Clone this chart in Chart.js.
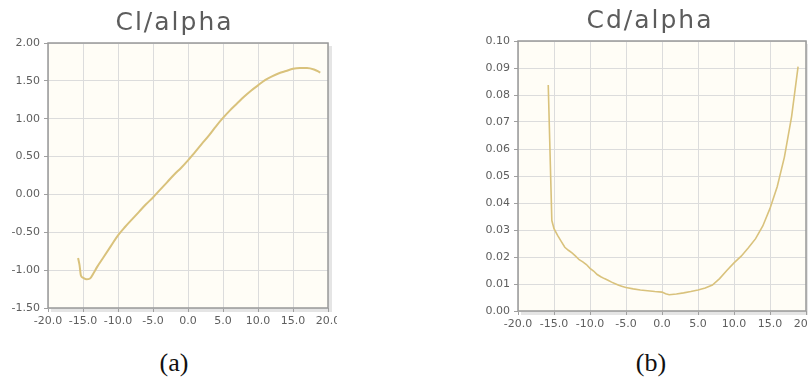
<!DOCTYPE html>
<html>
<head>
<meta charset="utf-8">
<script src="https://cdn.jsdelivr.net/npm/chart.js@4/dist/chart.umd.min.js"></script>
<style>
  html, body { margin: 0; padding: 0; background: #ffffff; overflow: hidden; width: 808px; height: 383px; }
  .panel { position: absolute; top: 0; height: 383px; overflow: hidden; }
  .panel canvas { position: absolute; left: 0; top: 0; }
  .caption { position: absolute; top: 348px; width: 80px; text-align: center;
             font-family: "Liberation Serif", "DejaVu Serif", serif; font-size: 26px; color: #111; }
</style>
</head>
<body>
<div class="panel" style="left:0; width:337px;"><canvas id="clChart" width="347" height="338"></canvas></div>
<div class="panel" style="left:470px; width:338px;"><canvas id="cdChart" width="358" height="341"></canvas></div>
<div class="caption" style="left:134px;">(a)</div>
<div class="caption" style="left:611px;">(b)</div>
<script>
// Lift coefficient polar: angle of attack (deg) vs Cl
const clAlpha = [-15.7, -15.5, -15.3, -15.0, -14.5, -14.0, -13.5, -13.0, -12.0, -11.0, -10.0, -9.0, -8.0, -7.0, -6.0, -5.0, -4.0, -3.0, -2.0, -1.0, 0.0, 1.0, 2.0, 3.0, 4.0, 5.0, 6.0, 7.0, 8.0, 9.0, 10.0, 11.0, 12.0, 13.0, 14.0, 15.0, 16.0, 17.0, 18.0, 18.9];
const clValues = [-0.84, -0.93, -1.07, -1.10, -1.12, -1.11, -1.04, -0.96, -0.82, -0.68, -0.54, -0.43, -0.33, -0.23, -0.13, -0.04, 0.06, 0.16, 0.26, 0.35, 0.45, 0.56, 0.67, 0.78, 0.90, 1.01, 1.11, 1.20, 1.29, 1.37, 1.44, 1.51, 1.56, 1.60, 1.63, 1.66, 1.67, 1.67, 1.65, 1.61];

// Drag coefficient polar: angle of attack (deg) vs Cd
const cdAlpha = [-15.8, -15.3, -15.0, -14.5, -14.0, -13.5, -13.0, -12.5, -12.0, -11.5, -11.0, -10.5, -10.0, -9.5, -9.0, -8.5, -8.0, -7.5, -7.0, -6.5, -6.0, -5.5, -5.0, -4.0, -3.0, -2.0, -1.0, 0.0, 0.5, 1.0, 2.0, 3.0, 4.0, 5.0, 6.0, 7.0, 8.0, 9.0, 10.0, 11.0, 12.0, 13.0, 14.0, 15.0, 16.0, 17.0, 18.0, 18.9];
const cdValues = [0.0837, 0.0335, 0.0305, 0.0280, 0.0258, 0.0236, 0.0225, 0.0215, 0.0203, 0.0190, 0.0182, 0.0172, 0.0158, 0.0148, 0.0135, 0.0127, 0.0120, 0.0114, 0.0107, 0.0101, 0.0095, 0.0091, 0.0087, 0.0082, 0.0078, 0.0075, 0.0072, 0.0070, 0.0064, 0.0060, 0.0063, 0.0067, 0.0072, 0.0078, 0.0085, 0.0096, 0.0120, 0.0150, 0.0178, 0.0203, 0.0234, 0.0268, 0.0315, 0.0380, 0.0460, 0.0570, 0.0720, 0.0905];

// Axis ranges and tick steps
const alphaRange = [-20, 20];
const alphaStep = 5;
const clRange = [-1.5, 2.0];
const clStep = 0.5;
const cdRange = [0, 0.1];
const cdStep = 0.01;

const titles = ['Cl/alpha', 'Cd/alpha'];

const lineColor = '#d9c27c';
const textColor = '#5e5e5e';
const gridColor = '#dcdcdc';

// Cream plot background with a soft drop shadow, then a grey frame on top.
// The title gets a little extra tracking and is centred on the whole canvas.
const plotFrame = {
  id: 'plotFrame',
  beforeDraw(chart) {
    const { ctx, chartArea: a } = chart;
    const tb = chart.titleBlock;
    if (tb && !tb._tracked) {
      const drawTitle = tb.draw.bind(tb);
      const shift = (chart.width - (tb.left + tb.right)) / 2 + 1;
      tb.draw = function () {
        ctx.save();
        ctx.translate(shift, 0);
        ctx.letterSpacing = '2px';
        drawTitle();
        ctx.restore();
      };
      tb._tracked = true;
    }
    ctx.save();
    ctx.fillStyle = '#fffdf6';
    ctx.fillRect(a.left, a.top, a.right - a.left, a.bottom - a.top);
    ctx.strokeStyle = 'rgba(0,0,0,0.10)';
    ctx.lineWidth = 3;
    ctx.beginPath();
    ctx.moveTo(a.right + 2.5, a.top + 3);
    ctx.lineTo(a.right + 2.5, a.bottom + 2.5);
    ctx.lineTo(a.left + 3, a.bottom + 2.5);
    ctx.stroke();
    ctx.restore();
  },
  afterDraw(chart) {
    const { ctx, chartArea: a } = chart;
    ctx.save();
    ctx.strokeStyle = '#999999';
    ctx.lineWidth = 1.5;
    ctx.strokeRect(a.left, a.top, a.right - a.left, a.bottom - a.top);
    ctx.restore();
  }
};

function toPoints(xs, ys) {
  return xs.map((x, i) => ({ x: x, y: ys[i] }));
}

function makeChart(id, title, xs, ys, yRange, yStep, yDigits, opts) {
  return new Chart(document.getElementById(id), {
    type: 'scatter',
    data: {
      datasets: [{
        data: toPoints(xs, ys),
        showLine: true,
        borderColor: lineColor,
        borderWidth: opts.lineWidth,
        pointRadius: 0,
        pointHoverRadius: 0,
        tension: 0,
        cubicInterpolationMode: opts.smooth ? 'monotone' : 'default'
      }]
    },
    plugins: [plotFrame],
    options: {
      responsive: false,
      animation: false,
      devicePixelRatio: 1,
      events: [],
      layout: { autoPadding: false, padding: { left: 0, right: opts.rightPad, top: 0, bottom: 0 } },
      plugins: {
        legend: { display: false },
        tooltip: { enabled: false },
        title: {
          display: true,
          text: title,
          color: '#5c5c5c',
          font: { family: 'DejaVu Sans', size: 25, weight: 'normal', lineHeight: 1 },
          padding: { top: opts.titleTop, bottom: opts.titleBottom }
        }
      },
      scales: {
        x: {
          type: 'linear',
          min: alphaRange[0],
          max: alphaRange[1],
          afterFit(scale) { scale.height = 30; },
          ticks: {
            stepSize: alphaStep,
            color: textColor,
            padding: 3,
            maxRotation: 0,
            autoSkip: false,
            font: { family: 'DejaVu Sans', size: 11 },
            callback: (v) => Number(v).toFixed(1)
          },
          grid: { color: gridColor, tickColor: '#a0a0a0', tickLength: 4, lineWidth: 1 },
          border: { display: false }
        },
        y: {
          type: 'linear',
          min: yRange[0],
          max: yRange[1],
          afterFit(scale) { scale.width = 48; },
          ticks: {
            stepSize: yStep,
            color: textColor,
            padding: 4,
            font: { family: 'DejaVu Sans', size: 11 },
            callback: (v) => Number(v).toFixed(yDigits)
          },
          grid: { color: gridColor, tickColor: '#a0a0a0', tickLength: 4, lineWidth: 1 },
          border: { display: false }
        }
      }
    }
  });
}

makeChart('clChart', titles[0], clAlpha, clValues, clRange, clStep, 2,
  { rightPad: 19, titleTop: 11, titleBottom: 7, lineWidth: 2, smooth: true });
makeChart('cdChart', titles[1], cdAlpha, cdValues, cdRange, cdStep, 2,
  { rightPad: 22, titleTop: 9, titleBottom: 7, lineWidth: 1.6, smooth: false });
</script>
</body>
</html>
